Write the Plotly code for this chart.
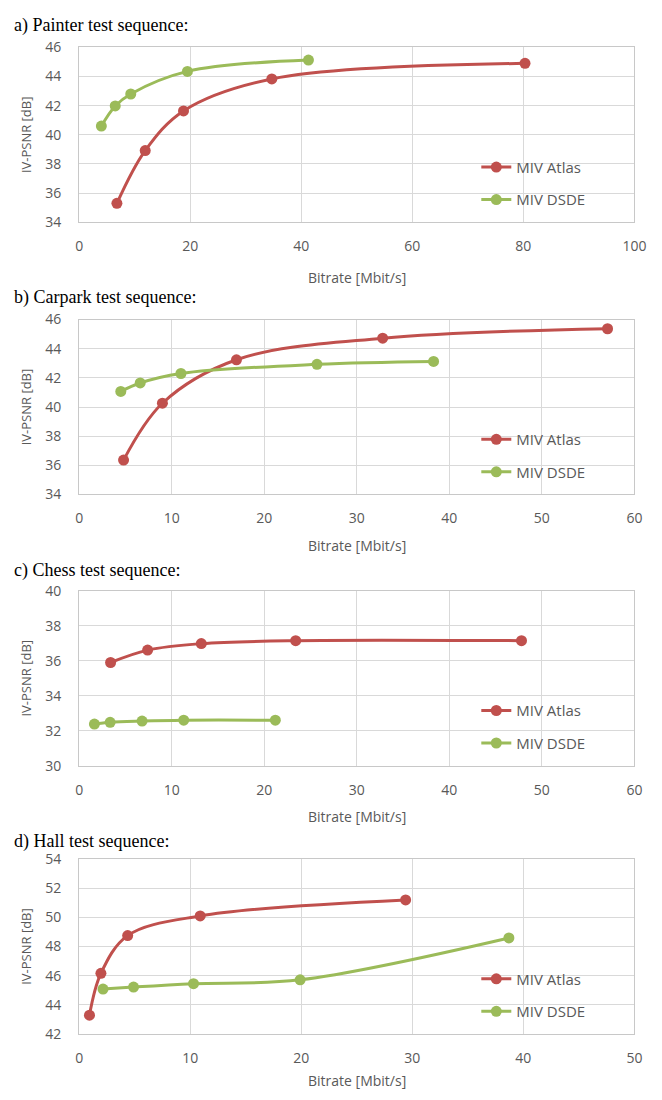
import plotly.graph_objects as go

# ---------------- data ----------------
painter_atlas_x = [6.8, 11.9, 18.8, 34.7, 80.3]
painter_atlas_y = [35.3, 38.92, 41.64, 43.83, 44.9]
painter_dsde_x = [4.0, 6.5, 9.3, 19.5, 41.3]
painter_dsde_y = [40.6, 41.98, 42.8, 44.35, 45.13]

carpark_atlas_x = [4.8, 9.0, 17.0, 32.8, 57.1]
carpark_atlas_y = [36.36, 40.26, 43.24, 44.72, 45.37]
carpark_dsde_x = [4.5, 6.6, 11.0, 25.7, 38.3]
carpark_dsde_y = [41.07, 41.65, 42.3, 42.93, 43.13]

chess_atlas_x = [3.4, 7.4, 13.2, 23.4, 47.8]
chess_atlas_y = [35.9, 36.61, 36.98, 37.15, 37.15]
chess_dsde_x = [1.65, 3.35, 6.8, 11.3, 21.2]
chess_dsde_y = [32.38, 32.48, 32.55, 32.6, 32.6]

hall_atlas_x = [0.93, 1.96, 4.37, 10.9, 29.4]
hall_atlas_y = [43.29, 46.16, 48.75, 50.1, 51.2]
hall_dsde_x = [2.15, 4.9, 10.3, 19.9, 38.7]
hall_dsde_y = [45.08, 45.22, 45.45, 45.72, 48.59]

panel_titles = ["a) Painter test sequence:", "b) Carpark test sequence:",
                "c) Chess test sequence:", "d) Hall test sequence:"]
series_names = ["MIV Atlas", "MIV DSDE"]
x_ranges = [[0, 100], [0, 60], [0, 60], [0, 50]]
x_dticks = [20, 10, 10, 10]
y_ranges = [[34, 46], [34, 46], [30, 40], [42, 54]]
x_title = "Bitrate [Mbit/s]"
y_title = "IV-PSNR [dB]"

panels = [
    (painter_atlas_x, painter_atlas_y, painter_dsde_x, painter_dsde_y),
    (carpark_atlas_x, carpark_atlas_y, carpark_dsde_x, carpark_dsde_y),
    (chess_atlas_x, chess_atlas_y, chess_dsde_x, chess_dsde_y),
    (hall_atlas_x, hall_atlas_y, hall_dsde_x, hall_dsde_y),
]

# ---------------- layout geometry (pixels) ----------------
W, H = 662, 1100
RED = "#C0504D"
GREEN = "#9BBB59"
GRID = "#D9D9D9"
TICKC = "#595959"
FONT = "Open Sans"

plot_left, plot_right = 77, 646
plot_tops = [38, 315, 591, 864]
plot_h = 178
title_ys = [16, 293, 570, 846]
xlabel_ys = [272, 545, 821, 1089]

fig = go.Figure()
layout = dict(width=W, height=H, margin=dict(l=0, r=0, t=0, b=0),
              paper_bgcolor="white", plot_bgcolor="white",
              font=dict(family=FONT, color=TICKC, size=14), showlegend=True)
annotations = []

for i, (ax, ay, dx, dy) in enumerate(panels):
    n = "" if i == 0 else str(i + 1)
    leg = "legend" if i == 0 else f"legend{i + 1}"
    for name, xs, ys, col in [(series_names[0], ax, ay, RED), (series_names[1], dx, dy, GREEN)]:
        fig.add_trace(go.Scatter(
            x=xs, y=ys, name=name, mode="lines+markers",
            line=dict(color=col, width=3, shape="spline"),
            marker=dict(color=col, size=11),
            xaxis="x" + n, yaxis="y" + n, legend=leg,
            legendgroup=f"{name}{i}", hoverinfo="x+y"))
    top = plot_tops[i]
    bot = top + plot_h
    layout["xaxis" + n] = dict(
        domain=[plot_left / W, plot_right / W], anchor="y" + n,
        range=x_ranges[i], dtick=x_dticks[i], showgrid=True, gridcolor=GRID,
        showline=True, linecolor="#C8C8C8", mirror=True, zeroline=False,
        ticks="outside", ticklen=11, tickcolor="rgba(0,0,0,0)",
        tickfont=dict(size=14, color=TICKC, family=FONT))
    layout["yaxis" + n] = dict(
        domain=[1 - bot / H, 1 - top / H], anchor="x" + n,
        range=y_ranges[i], dtick=2, showgrid=True, gridcolor=GRID,
        showline=True, linecolor="#C8C8C8", mirror=True, zeroline=False,
        ticks="outside", ticklen=14, tickcolor="rgba(0,0,0,0)",
        tickfont=dict(size=14, color=TICKC, family=FONT),
        title=dict(text=y_title, font=dict(size=13, color=TICKC, family=FONT), standoff=10))
    layout[leg] = dict(
        x=484 / W, xanchor="left", y=1 - (top + 0.687 * plot_h - 17) / H, yanchor="top",
        bgcolor="rgba(0,0,0,0)", font=dict(size=15, color=TICKC, family=FONT),
        traceorder="grouped", tracegroupgap=10, itemclick=False)
    annotations.append(dict(
        text=panel_titles[i], xref="paper", yref="paper", x=8 / W, xanchor="left",
        y=1 - title_ys[i] / H, yanchor="middle", showarrow=False,
        font=dict(family="Liberation Serif", size=18, color="black")))
    annotations.append(dict(
        text=x_title, xref="paper", yref="paper", x=(plot_left + plot_right) / 2 / W,
        xanchor="center", y=1 - xlabel_ys[i] / H, yanchor="middle", showarrow=False,
        font=dict(family=FONT, size=14, color=TICKC)))

layout["annotations"] = annotations
fig.update_layout(**layout)
fig.write_html("out.html", config={"displayModeBar": False},
               post_script="document.body.style.margin='0px';")
